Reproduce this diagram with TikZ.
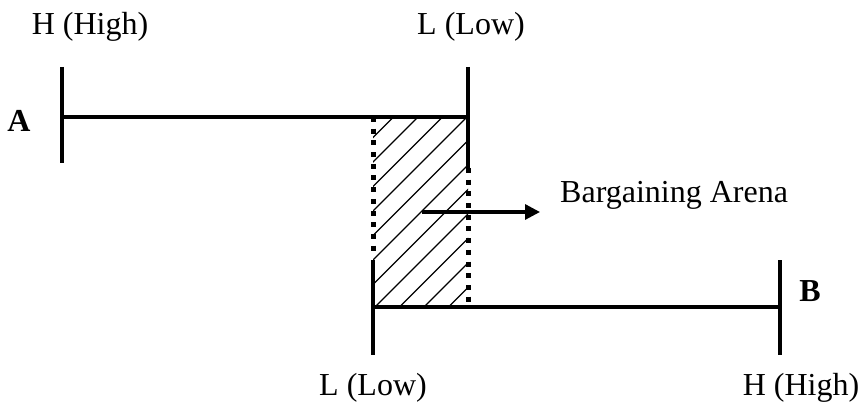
\documentclass[tikz,border=0pt]{standalone}
\usepackage{fontspec}
\setmainfont{Liberation Serif}
\usetikzlibrary{arrows.meta}
\definecolor{lineblack}{HTML}{000000}

\begin{document}
\begin{tikzpicture}[x=1pt, y=-1pt, font=\fontsize{32}{38}\selectfont,
    bar/.style={draw=lineblack, line width=4.5pt},
    dotbar/.style={draw=lineblack, line width=5pt, dash pattern=on 5pt off 6.7pt},
    hatch/.style={draw=lineblack, line width=1.3pt},
    lbl/.style={inner sep=0pt, anchor=base}]
    \useasboundingbox (0,0) rectangle (861,403);

    % points
    \coordinate (aTop) at (62,67);
    \coordinate (aMid) at (62,117);
    \coordinate (aBot) at (62,163);
    \coordinate (rTop) at (468,67);
    \coordinate (rMid) at (468,117);
    \coordinate (rSol) at (468,168);
    \coordinate (rBot) at (468,305);
    \coordinate (lTop) at (373,117);
    \coordinate (lDot) at (373,256);
    \coordinate (lSol) at (373,260);
    \coordinate (lMid) at (373,307);
    \coordinate (lBot) at (373,355);
    \coordinate (bTop) at (780,260);
    \coordinate (bMid) at (780,307);
    \coordinate (bBot) at (780,355);
    \coordinate (arrS) at (422,212);
    \coordinate (arrE) at (540,212);

    % hatched arena
    \begin{scope}
        \clip (lTop) rectangle (bMid -| rMid);
        \foreach \k in {-2,...,10}
            \draw[hatch] ({535+24.5*\k-117},117) -- ({535+24.5*\k-307},307);
    \end{scope}

    % A
    \draw[bar] (aTop) -- (aBot);
    \draw[bar] (aMid) -- (rMid);
    \draw[bar] (rTop) -- (rSol);
    \draw[dotbar] (rSol) -- (rBot);

    % B
    \draw[dotbar] (lTop) -- (lDot);
    \draw[bar] (lSol) -- (lBot);
    \draw[bar] (lMid) -- (bMid);
    \draw[bar] (bTop) -- (bBot);

    \draw[draw=lineblack, line width=3.2pt, -{Triangle[length=15pt, width=15pt]}] (arrS) -- (arrE);

    % labels
    \node[lbl] (aHigh) at (90,35) {H (High)};
    \node[lbl] (aLow) at (471,35) {L (Low)};
    \node[lbl] (bLow) at (373,395) {L (Low)};
    \node[lbl] (bHigh) at (801,395) {H (High)};
    \node[lbl, anchor=base west] (arena) at (560,203) {Bargaining Arena};
    \node[lbl, font=\fontsize{32}{38}\selectfont\bfseries] (nameA) at (19,132) {A};
    \node[lbl, font=\fontsize{32}{38}\selectfont\bfseries] (nameB) at (810,301) {B};
\end{tikzpicture}
\end{document}
